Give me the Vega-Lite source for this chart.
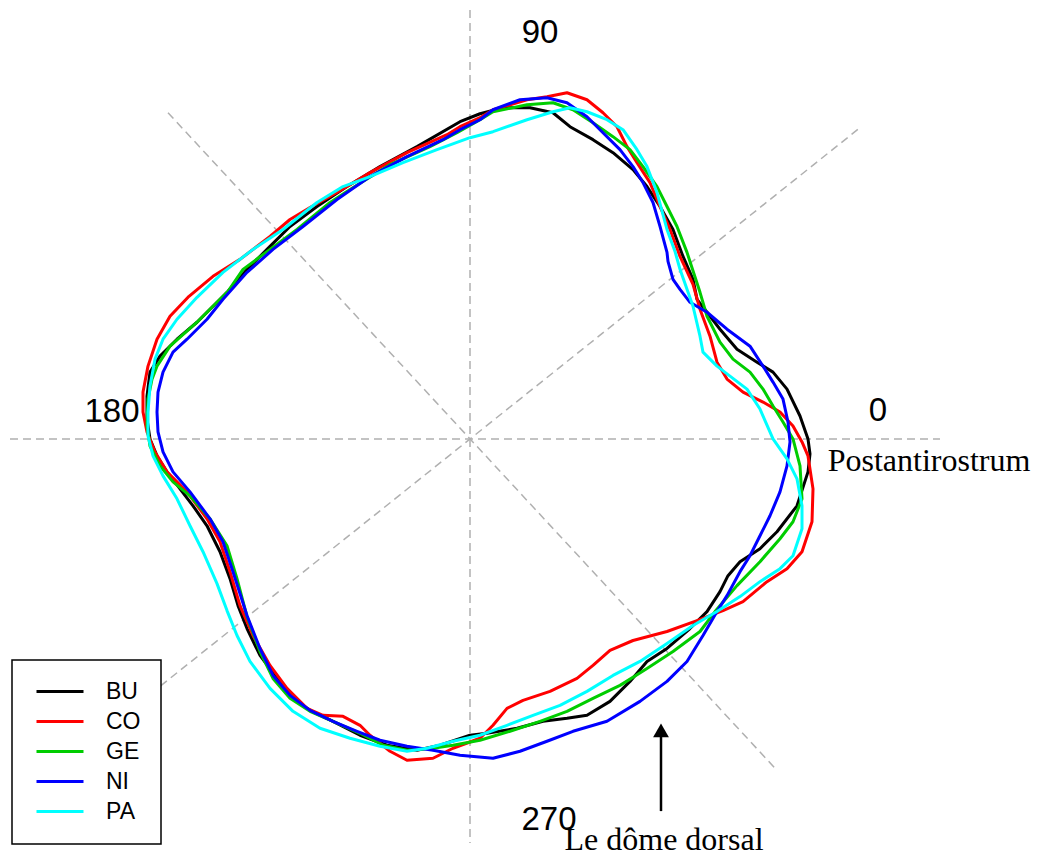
{
  "$schema": "https://vega.github.io/schema/vega-lite/v6.json",
  "width": 1037,
  "height": 856,
  "padding": 0,
  "autosize": {"type": "fit", "contains": "padding"},
  "background": "#ffffff",
  "config": {"view": {"stroke": null}},
  "encoding": {
    "x": {"field": "x", "type": "quantitative", "scale": {"domain": [-470, 567], "nice": false, "zero": false}, "axis": null},
    "y": {"field": "y", "type": "quantitative", "scale": {"domain": [-416, 440], "nice": false, "zero": false}, "axis": null}
  },
  "layer": [
    {
      "data": {"values": [
        {"g": "h", "x": -460, "y": 0}, {"g": "h", "x": 470, "y": 0},
        {"g": "v", "x": 0, "y": 430}, {"g": "v", "x": 0, "y": -405},
        {"g": "d1", "x": -302, "y": 327}, {"g": "d1", "x": 305, "y": -330},
        {"g": "d2", "x": 390, "y": 312}, {"g": "d2", "x": -350, "y": -280}
      ]},
      "mark": {"type": "line", "strokeDash": [8, 5], "strokeWidth": 1.5, "color": "#b0b0b0"},
      "encoding": {"detail": {"field": "g"}}
    },
    {
      "data": {"values": [
        {"s":"BU","i":0,"x":338,"y":0},{"s":"BU","i":1,"x":330,"y":23},{"s":"BU","i":2,"x":317,"y":50},{"s":"BU","i":3,"x":303,"y":67},{"s":"BU","i":4,"x":287,"y":77},{"s":"BU","i":5,"x":267,"y":90},{"s":"BU","i":6,"x":250,"y":110},{"s":"BU","i":7,"x":237,"y":127},{"s":"BU","i":8,"x":227,"y":140},{"s":"BU","i":9,"x":223,"y":160},{"s":"BU","i":10,"x":213,"y":183},{"s":"BU","i":11,"x":203,"y":210},{"s":"BU","i":12,"x":190,"y":233},{"s":"BU","i":13,"x":177,"y":253},{"s":"BU","i":14,"x":163,"y":270},{"s":"BU","i":15,"x":143,"y":287},{"s":"BU","i":16,"x":123,"y":300},{"s":"BU","i":17,"x":100,"y":313},{"s":"BU","i":18,"x":83,"y":327},{"s":"BU","i":19,"x":60,"y":332},{"s":"BU","i":20,"x":33,"y":332},{"s":"BU","i":21,"x":10,"y":326},{"s":"BU","i":22,"x":-10,"y":318},{"s":"BU","i":23,"x":-53,"y":293},{"s":"BU","i":24,"x":-90,"y":273},{"s":"BU","i":25,"x":-123,"y":253},{"s":"BU","i":26,"x":-153,"y":233},{"s":"BU","i":27,"x":-180,"y":213},{"s":"BU","i":28,"x":-200,"y":193},{"s":"BU","i":29,"x":-223,"y":170},{"s":"BU","i":30,"x":-242,"y":148},{"s":"BU","i":31,"x":-257,"y":133},{"s":"BU","i":32,"x":-273,"y":117},{"s":"BU","i":33,"x":-293,"y":100},{"s":"BU","i":34,"x":-310,"y":83},{"s":"BU","i":35,"x":-320,"y":67},{"s":"BU","i":36,"x":-323,"y":43},{"s":"BU","i":37,"x":-323,"y":20},{"s":"BU","i":38,"x":-320,"y":0},{"s":"BU","i":39,"x":-313,"y":-17},{"s":"BU","i":40,"x":-303,"y":-33},{"s":"BU","i":41,"x":-290,"y":-50},{"s":"BU","i":42,"x":-277,"y":-67},{"s":"BU","i":43,"x":-263,"y":-87},{"s":"BU","i":44,"x":-250,"y":-113},{"s":"BU","i":45,"x":-240,"y":-140},{"s":"BU","i":46,"x":-232,"y":-167},{"s":"BU","i":47,"x":-223,"y":-190},{"s":"BU","i":48,"x":-210,"y":-217},{"s":"BU","i":49,"x":-193,"y":-240},{"s":"BU","i":50,"x":-177,"y":-260},{"s":"BU","i":51,"x":-160,"y":-272},{"s":"BU","i":52,"x":-137,"y":-283},{"s":"BU","i":53,"x":-110,"y":-297},{"s":"BU","i":54,"x":-83,"y":-307},{"s":"BU","i":55,"x":-53,"y":-312},{"s":"BU","i":56,"x":-30,"y":-307},{"s":"BU","i":57,"x":0,"y":-297},{"s":"BU","i":58,"x":17,"y":-295},{"s":"BU","i":59,"x":47,"y":-290},{"s":"BU","i":60,"x":73,"y":-283},{"s":"BU","i":61,"x":97,"y":-280},{"s":"BU","i":62,"x":117,"y":-277},{"s":"BU","i":63,"x":140,"y":-263},{"s":"BU","i":64,"x":160,"y":-243},{"s":"BU","i":65,"x":177,"y":-223},{"s":"BU","i":66,"x":197,"y":-210},{"s":"BU","i":67,"x":220,"y":-190},{"s":"BU","i":68,"x":237,"y":-173},{"s":"BU","i":69,"x":250,"y":-153},{"s":"BU","i":70,"x":258,"y":-137},{"s":"BU","i":71,"x":270,"y":-123},{"s":"BU","i":72,"x":290,"y":-110},{"s":"BU","i":73,"x":307,"y":-93},{"s":"BU","i":74,"x":327,"y":-67},{"s":"BU","i":75,"x":338,"y":-33},{"s":"BU","i":76,"x":340,"y":-15},{"s":"BU","i":77,"x":338,"y":0},
        {"s":"CO","i":0,"x":332,"y":-3},{"s":"CO","i":1,"x":323,"y":13},{"s":"CO","i":2,"x":310,"y":27},{"s":"CO","i":3,"x":293,"y":37},{"s":"CO","i":4,"x":273,"y":47},{"s":"CO","i":5,"x":257,"y":60},{"s":"CO","i":6,"x":247,"y":77},{"s":"CO","i":7,"x":240,"y":103},{"s":"CO","i":8,"x":230,"y":130},{"s":"CO","i":9,"x":223,"y":155},{"s":"CO","i":10,"x":210,"y":183},{"s":"CO","i":11,"x":200,"y":210},{"s":"CO","i":12,"x":190,"y":233},{"s":"CO","i":13,"x":180,"y":257},{"s":"CO","i":14,"x":167,"y":277},{"s":"CO","i":15,"x":157,"y":293},{"s":"CO","i":16,"x":147,"y":313},{"s":"CO","i":17,"x":133,"y":327},{"s":"CO","i":18,"x":117,"y":340},{"s":"CO","i":19,"x":97,"y":347},{"s":"CO","i":20,"x":77,"y":343},{"s":"CO","i":21,"x":57,"y":340},{"s":"CO","i":22,"x":23,"y":330},{"s":"CO","i":23,"x":10,"y":322},{"s":"CO","i":24,"x":-10,"y":313},{"s":"CO","i":25,"x":-23,"y":305},{"s":"CO","i":26,"x":-63,"y":287},{"s":"CO","i":27,"x":-100,"y":267},{"s":"CO","i":28,"x":-133,"y":247},{"s":"CO","i":29,"x":-160,"y":232},{"s":"CO","i":30,"x":-180,"y":220},{"s":"CO","i":31,"x":-200,"y":203},{"s":"CO","i":32,"x":-230,"y":180},{"s":"CO","i":33,"x":-257,"y":163},{"s":"CO","i":34,"x":-281,"y":143},{"s":"CO","i":35,"x":-300,"y":123},{"s":"CO","i":36,"x":-313,"y":100},{"s":"CO","i":37,"x":-322,"y":73},{"s":"CO","i":38,"x":-327,"y":47},{"s":"CO","i":39,"x":-327,"y":27},{"s":"CO","i":40,"x":-323,"y":7},{"s":"CO","i":41,"x":-315,"y":-13},{"s":"CO","i":42,"x":-303,"y":-33},{"s":"CO","i":43,"x":-283,"y":-53},{"s":"CO","i":44,"x":-263,"y":-80},{"s":"CO","i":45,"x":-250,"y":-103},{"s":"CO","i":46,"x":-240,"y":-133},{"s":"CO","i":47,"x":-230,"y":-167},{"s":"CO","i":48,"x":-217,"y":-197},{"s":"CO","i":49,"x":-200,"y":-227},{"s":"CO","i":50,"x":-183,"y":-250},{"s":"CO","i":51,"x":-163,"y":-270},{"s":"CO","i":52,"x":-147,"y":-277},{"s":"CO","i":53,"x":-127,"y":-278},{"s":"CO","i":54,"x":-110,"y":-287},{"s":"CO","i":55,"x":-100,"y":-297},{"s":"CO","i":56,"x":-80,"y":-313},{"s":"CO","i":57,"x":-63,"y":-322},{"s":"CO","i":58,"x":-37,"y":-320},{"s":"CO","i":59,"x":-17,"y":-310},{"s":"CO","i":60,"x":10,"y":-300},{"s":"CO","i":61,"x":23,"y":-287},{"s":"CO","i":62,"x":37,"y":-270},{"s":"CO","i":63,"x":53,"y":-262},{"s":"CO","i":64,"x":80,"y":-253},{"s":"CO","i":65,"x":107,"y":-240},{"s":"CO","i":66,"x":123,"y":-227},{"s":"CO","i":67,"x":140,"y":-212},{"s":"CO","i":68,"x":163,"y":-202},{"s":"CO","i":69,"x":197,"y":-193},{"s":"CO","i":70,"x":227,"y":-182},{"s":"CO","i":71,"x":253,"y":-172},{"s":"CO","i":72,"x":273,"y":-163},{"s":"CO","i":73,"x":297,"y":-143},{"s":"CO","i":74,"x":317,"y":-130},{"s":"CO","i":75,"x":332,"y":-113},{"s":"CO","i":76,"x":342,"y":-83},{"s":"CO","i":77,"x":343,"y":-50},{"s":"CO","i":78,"x":338,"y":-17},{"s":"CO","i":79,"x":332,"y":-3},
        {"s":"GE","i":0,"x":323,"y":0},{"s":"GE","i":1,"x":313,"y":17},{"s":"GE","i":2,"x":303,"y":33},{"s":"GE","i":3,"x":293,"y":50},{"s":"GE","i":4,"x":280,"y":67},{"s":"GE","i":5,"x":263,"y":80},{"s":"GE","i":6,"x":250,"y":97},{"s":"GE","i":7,"x":237,"y":123},{"s":"GE","i":8,"x":230,"y":147},{"s":"GE","i":9,"x":217,"y":187},{"s":"GE","i":10,"x":207,"y":213},{"s":"GE","i":11,"x":197,"y":233},{"s":"GE","i":12,"x":187,"y":253},{"s":"GE","i":13,"x":173,"y":273},{"s":"GE","i":14,"x":160,"y":290},{"s":"GE","i":15,"x":143,"y":303},{"s":"GE","i":16,"x":123,"y":317},{"s":"GE","i":17,"x":103,"y":330},{"s":"GE","i":18,"x":83,"y":337},{"s":"GE","i":19,"x":57,"y":335},{"s":"GE","i":20,"x":23,"y":328},{"s":"GE","i":21,"x":10,"y":320},{"s":"GE","i":22,"x":-13,"y":307},{"s":"GE","i":23,"x":-40,"y":293},{"s":"GE","i":24,"x":-80,"y":275},{"s":"GE","i":25,"x":-120,"y":250},{"s":"GE","i":26,"x":-140,"y":237},{"s":"GE","i":27,"x":-173,"y":210},{"s":"GE","i":28,"x":-200,"y":190},{"s":"GE","i":29,"x":-227,"y":170},{"s":"GE","i":30,"x":-242,"y":148},{"s":"GE","i":31,"x":-253,"y":137},{"s":"GE","i":32,"x":-273,"y":117},{"s":"GE","i":33,"x":-300,"y":93},{"s":"GE","i":34,"x":-313,"y":73},{"s":"GE","i":35,"x":-318,"y":60},{"s":"GE","i":36,"x":-322,"y":40},{"s":"GE","i":37,"x":-323,"y":13},{"s":"GE","i":38,"x":-320,"y":-7},{"s":"GE","i":39,"x":-310,"y":-27},{"s":"GE","i":40,"x":-297,"y":-43},{"s":"GE","i":41,"x":-280,"y":-57},{"s":"GE","i":42,"x":-260,"y":-80},{"s":"GE","i":43,"x":-243,"y":-107},{"s":"GE","i":44,"x":-233,"y":-140},{"s":"GE","i":45,"x":-223,"y":-178},{"s":"GE","i":46,"x":-210,"y":-213},{"s":"GE","i":47,"x":-197,"y":-240},{"s":"GE","i":48,"x":-180,"y":-260},{"s":"GE","i":49,"x":-160,"y":-273},{"s":"GE","i":50,"x":-137,"y":-283},{"s":"GE","i":51,"x":-110,"y":-295},{"s":"GE","i":52,"x":-87,"y":-307},{"s":"GE","i":53,"x":-63,"y":-312},{"s":"GE","i":54,"x":-37,"y":-310},{"s":"GE","i":55,"x":-17,"y":-307},{"s":"GE","i":56,"x":10,"y":-302},{"s":"GE","i":57,"x":40,"y":-293},{"s":"GE","i":58,"x":70,"y":-283},{"s":"GE","i":59,"x":97,"y":-273},{"s":"GE","i":60,"x":123,"y":-260},{"s":"GE","i":61,"x":150,"y":-247},{"s":"GE","i":62,"x":177,"y":-230},{"s":"GE","i":63,"x":203,"y":-213},{"s":"GE","i":64,"x":230,"y":-193},{"s":"GE","i":65,"x":245,"y":-173},{"s":"GE","i":66,"x":267,"y":-147},{"s":"GE","i":67,"x":290,"y":-123},{"s":"GE","i":68,"x":310,"y":-100},{"s":"GE","i":69,"x":323,"y":-83},{"s":"GE","i":70,"x":332,"y":-60},{"s":"GE","i":71,"x":330,"y":-27},{"s":"GE","i":72,"x":323,"y":0},
        {"s":"NI","i":0,"x":320,"y":-3},{"s":"NI","i":1,"x":318,"y":17},{"s":"NI","i":2,"x":313,"y":40},{"s":"NI","i":3,"x":303,"y":57},{"s":"NI","i":4,"x":293,"y":73},{"s":"NI","i":5,"x":280,"y":93},{"s":"NI","i":6,"x":257,"y":110},{"s":"NI","i":7,"x":237,"y":127},{"s":"NI","i":8,"x":220,"y":137},{"s":"NI","i":9,"x":210,"y":150},{"s":"NI","i":10,"x":203,"y":160},{"s":"NI","i":11,"x":198,"y":178},{"s":"NI","i":12,"x":197,"y":187},{"s":"NI","i":13,"x":190,"y":213},{"s":"NI","i":14,"x":183,"y":237},{"s":"NI","i":15,"x":173,"y":257},{"s":"NI","i":16,"x":163,"y":273},{"s":"NI","i":17,"x":150,"y":290},{"s":"NI","i":18,"x":133,"y":307},{"s":"NI","i":19,"x":117,"y":323},{"s":"NI","i":20,"x":97,"y":337},{"s":"NI","i":21,"x":77,"y":342},{"s":"NI","i":22,"x":50,"y":340},{"s":"NI","i":23,"x":23,"y":330},{"s":"NI","i":24,"x":10,"y":320},{"s":"NI","i":25,"x":-10,"y":310},{"s":"NI","i":26,"x":-27,"y":300},{"s":"NI","i":27,"x":-63,"y":283},{"s":"NI","i":28,"x":-100,"y":263},{"s":"NI","i":29,"x":-133,"y":240},{"s":"NI","i":30,"x":-167,"y":213},{"s":"NI","i":31,"x":-197,"y":190},{"s":"NI","i":32,"x":-223,"y":167},{"s":"NI","i":33,"x":-247,"y":140},{"s":"NI","i":34,"x":-263,"y":120},{"s":"NI","i":35,"x":-283,"y":100},{"s":"NI","i":36,"x":-297,"y":87},{"s":"NI","i":37,"x":-307,"y":67},{"s":"NI","i":38,"x":-312,"y":47},{"s":"NI","i":39,"x":-313,"y":27},{"s":"NI","i":40,"x":-312,"y":7},{"s":"NI","i":41,"x":-307,"y":-13},{"s":"NI","i":42,"x":-297,"y":-33},{"s":"NI","i":43,"x":-280,"y":-53},{"s":"NI","i":44,"x":-260,"y":-80},{"s":"NI","i":45,"x":-247,"y":-103},{"s":"NI","i":46,"x":-237,"y":-133},{"s":"NI","i":47,"x":-223,"y":-177},{"s":"NI","i":48,"x":-210,"y":-210},{"s":"NI","i":49,"x":-197,"y":-237},{"s":"NI","i":50,"x":-180,"y":-257},{"s":"NI","i":51,"x":-160,"y":-272},{"s":"NI","i":52,"x":-137,"y":-283},{"s":"NI","i":53,"x":-113,"y":-293},{"s":"NI","i":54,"x":-90,"y":-302},{"s":"NI","i":55,"x":-63,"y":-308},{"s":"NI","i":56,"x":-37,"y":-312},{"s":"NI","i":57,"x":-10,"y":-317},{"s":"NI","i":58,"x":23,"y":-320},{"s":"NI","i":59,"x":50,"y":-313},{"s":"NI","i":60,"x":77,"y":-303},{"s":"NI","i":61,"x":103,"y":-293},{"s":"NI","i":62,"x":137,"y":-283},{"s":"NI","i":63,"x":170,"y":-263},{"s":"NI","i":64,"x":197,"y":-243},{"s":"NI","i":65,"x":217,"y":-223},{"s":"NI","i":66,"x":233,"y":-197},{"s":"NI","i":67,"x":247,"y":-173},{"s":"NI","i":68,"x":257,"y":-157},{"s":"NI","i":69,"x":270,"y":-133},{"s":"NI","i":70,"x":280,"y":-117},{"s":"NI","i":71,"x":290,"y":-97},{"s":"NI","i":72,"x":300,"y":-77},{"s":"NI","i":73,"x":310,"y":-53},{"s":"NI","i":74,"x":317,"y":-27},{"s":"NI","i":75,"x":320,"y":-3},
        {"s":"PA","i":0,"x":303,"y":0},{"s":"PA","i":1,"x":290,"y":30},{"s":"PA","i":2,"x":277,"y":50},{"s":"PA","i":3,"x":260,"y":63},{"s":"PA","i":4,"x":247,"y":73},{"s":"PA","i":5,"x":233,"y":87},{"s":"PA","i":6,"x":230,"y":103},{"s":"PA","i":7,"x":223,"y":133},{"s":"PA","i":8,"x":217,"y":150},{"s":"PA","i":9,"x":210,"y":170},{"s":"PA","i":10,"x":205,"y":188},{"s":"PA","i":11,"x":197,"y":210},{"s":"PA","i":12,"x":187,"y":247},{"s":"PA","i":13,"x":177,"y":273},{"s":"PA","i":14,"x":167,"y":290},{"s":"PA","i":15,"x":153,"y":310},{"s":"PA","i":16,"x":137,"y":320},{"s":"PA","i":17,"x":117,"y":328},{"s":"PA","i":18,"x":100,"y":332},{"s":"PA","i":19,"x":83,"y":328},{"s":"PA","i":20,"x":57,"y":320},{"s":"PA","i":21,"x":23,"y":308},{"s":"PA","i":22,"x":0,"y":302},{"s":"PA","i":23,"x":-33,"y":290},{"s":"PA","i":24,"x":-67,"y":277},{"s":"PA","i":25,"x":-100,"y":263},{"s":"PA","i":26,"x":-127,"y":253},{"s":"PA","i":27,"x":-153,"y":237},{"s":"PA","i":28,"x":-187,"y":210},{"s":"PA","i":29,"x":-217,"y":190},{"s":"PA","i":30,"x":-247,"y":167},{"s":"PA","i":31,"x":-273,"y":142},{"s":"PA","i":32,"x":-293,"y":120},{"s":"PA","i":33,"x":-307,"y":100},{"s":"PA","i":34,"x":-315,"y":80},{"s":"PA","i":35,"x":-320,"y":53},{"s":"PA","i":36,"x":-322,"y":27},{"s":"PA","i":37,"x":-322,"y":3},{"s":"PA","i":38,"x":-317,"y":-17},{"s":"PA","i":39,"x":-307,"y":-37},{"s":"PA","i":40,"x":-293,"y":-60},{"s":"PA","i":41,"x":-280,"y":-87},{"s":"PA","i":42,"x":-267,"y":-113},{"s":"PA","i":43,"x":-253,"y":-145},{"s":"PA","i":44,"x":-243,"y":-172},{"s":"PA","i":45,"x":-233,"y":-197},{"s":"PA","i":46,"x":-220,"y":-223},{"s":"PA","i":47,"x":-200,"y":-250},{"s":"PA","i":48,"x":-177,"y":-273},{"s":"PA","i":49,"x":-150,"y":-290},{"s":"PA","i":50,"x":-120,"y":-300},{"s":"PA","i":51,"x":-90,"y":-308},{"s":"PA","i":52,"x":-63,"y":-313},{"s":"PA","i":53,"x":-43,"y":-310},{"s":"PA","i":54,"x":-17,"y":-303},{"s":"PA","i":55,"x":10,"y":-297},{"s":"PA","i":56,"x":37,"y":-287},{"s":"PA","i":57,"x":63,"y":-277},{"s":"PA","i":58,"x":90,"y":-267},{"s":"PA","i":59,"x":117,"y":-253},{"s":"PA","i":60,"x":143,"y":-237},{"s":"PA","i":61,"x":170,"y":-223},{"s":"PA","i":62,"x":197,"y":-205},{"s":"PA","i":63,"x":223,"y":-187},{"s":"PA","i":64,"x":247,"y":-173},{"s":"PA","i":65,"x":270,"y":-158},{"s":"PA","i":66,"x":290,"y":-143},{"s":"PA","i":67,"x":310,"y":-130},{"s":"PA","i":68,"x":323,"y":-117},{"s":"PA","i":69,"x":332,"y":-90},{"s":"PA","i":70,"x":332,"y":-67},{"s":"PA","i":71,"x":327,"y":-40},{"s":"PA","i":72,"x":317,"y":-20},{"s":"PA","i":73,"x":303,"y":0}
      ]},
      "mark": {"type": "line", "strokeWidth": 3, "strokeJoin": "round", "strokeCap": "round"},
      "encoding": {
        "order": {"field": "i", "type": "quantitative"},
        "color": {
          "field": "s", "type": "nominal",
          "scale": {"domain": ["BU", "CO", "GE", "NI", "PA"], "range": ["#000000", "#FF0000", "#00CD00", "#0000FF", "#00FFFF"]},
          "legend": {
            "orient": "none", "legendX": 12, "legendY": 660, "title": null,
            "symbolType": "M-0.7,0H4", "symbolSize": 400, "symbolStrokeWidth": 3,
            "labelFont": "Liberation Sans", "labelFontSize": 23, "labelColor": "#000000", "labelOffset": 51, "labelLimit": 200,
            "padding": 20, "rowPadding": 6, "fillColor": "#ffffff", "strokeColor": "#000000", "cornerRadius": 0,
            "encode": {"legend": {"update": {"strokeWidth": {"value": 1.5}}}}
          }
        }
      }
    },
    {
      "data": {"values": [
        {"t": "90", "x": 70, "y": 397},
        {"t": "180", "x": -358, "y": 17},
        {"t": "0", "x": 408, "y": 18},
        {"t": "270", "x": 79, "y": -392}
      ]},
      "mark": {"type": "text", "font": "Liberation Sans", "fontSize": 33, "align": "center", "baseline": "alphabetic", "color": "#000000"},
      "encoding": {"text": {"field": "t"}}
    },
    {
      "data": {"values": [
        {"t": "Postantirostrum", "x": 459, "y": -32},
        {"t": "Le dôme dorsal", "x": 194, "y": -412}
      ]},
      "mark": {"type": "text", "font": "Liberation Serif", "fontSize": 32, "align": "center", "baseline": "alphabetic", "color": "#000000"},
      "encoding": {"text": {"field": "t"}}
    },
    {
      "data": {"values": [{"x": 191, "y": -373, "y2": -298}]},
      "mark": {"type": "rule", "strokeWidth": 2.5, "color": "#000000"},
      "encoding": {"y2": {"field": "y2"}}
    },
    {
      "data": {"values": [{"x": 191, "y": -292}]},
      "mark": {"type": "point", "shape": "triangle-up", "filled": true, "size": 250, "color": "#000000", "opacity": 1}
    }
  ]
}
